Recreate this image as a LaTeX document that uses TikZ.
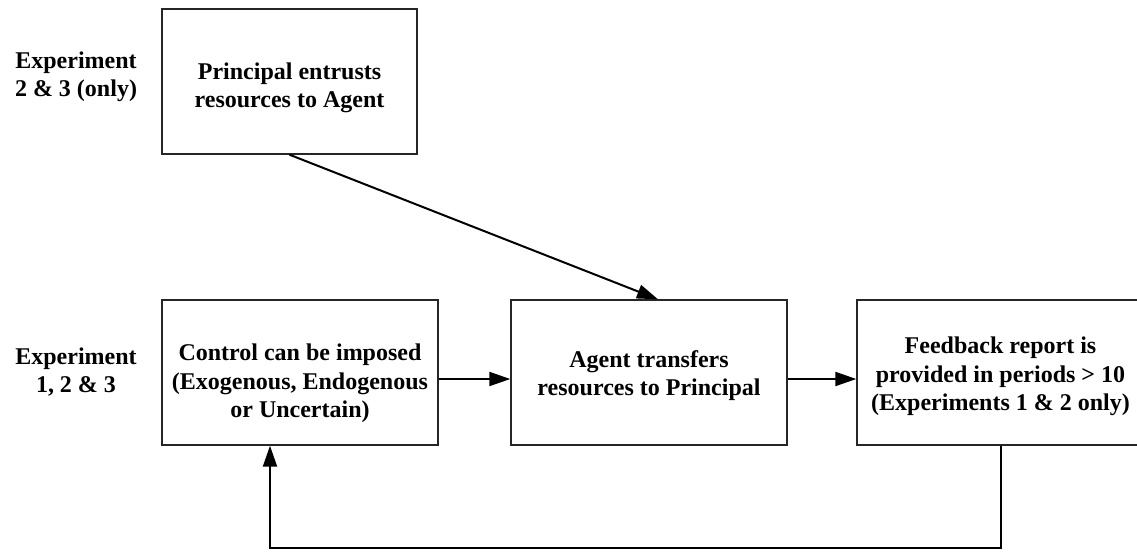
\documentclass[tikz,border=0pt]{standalone}
\usepackage{fontspec}
\setmainfont{Liberation Serif}
\usetikzlibrary{arrows.meta,calc}
\begin{document}
\begin{tikzpicture}[x=1pt,y=-1pt,
  txt/.style={font=\fontsize{24}{28.3}\selectfont\bfseries, align=center},
  stagebox/.style={draw=black!85, line width=1.4pt, minimum height=145pt, inner sep=0pt},
  flow/.style={line width=2pt, -{Triangle[length=21pt,width=14pt]}}]
\useasboundingbox (0,0) rectangle (1137,555);
\clip (0,0) rectangle (1137,555);
% row labels
\node[txt] (lab1) at (76,77) {Experiment\\2 \& 3 (only)};
\node[txt] (lab2) at (76,372) {Experiment\\1, 2 \& 3};
% stage frames
\node[stagebox, minimum width=255pt] (entrust) at (289.5,81.5) {};
\node[stagebox, minimum width=276pt] (control) at (300,372.5) {};
\node[stagebox, minimum width=276pt] (transfer) at (649,372.5) {};
\node[stagebox, minimum width=287pt] (feedback) at (1000.5,372.5) {};
% stage texts
\node[txt] (entrustT) at ([yshift=-6pt]entrust.center) {Principal entrusts\\resources to Agent};
\node[txt] (controlT) at ([yshift=-11pt]control.center) {Control can be imposed\\(Exogenous, Endogenous\\or Uncertain)};
\node[txt] (transferT) at ([yshift=-3pt]transfer.center) {Agent transfers\\resources to Principal};
\node[txt] (feedbackT) at ([yshift=-4pt]feedback.center) {Feedback report is\\provided in periods > 10\\(Experiments 1 \& 2 only)};
% connectors
\draw[flow] (entrust.south) -- ([xshift=9pt]transfer.north);
\draw[flow] ([yshift=-6.5pt]control.east) -- ([yshift=-6.5pt]transfer.west);
\draw[flow] ([yshift=-6.5pt]transfer.east) -- ([yshift=-6.5pt]feedback.west);
\coordinate (back) at (270,548);
\draw[flow] (feedback.south) |- (back) -- (back |- control.south);
\end{tikzpicture}
\end{document}
